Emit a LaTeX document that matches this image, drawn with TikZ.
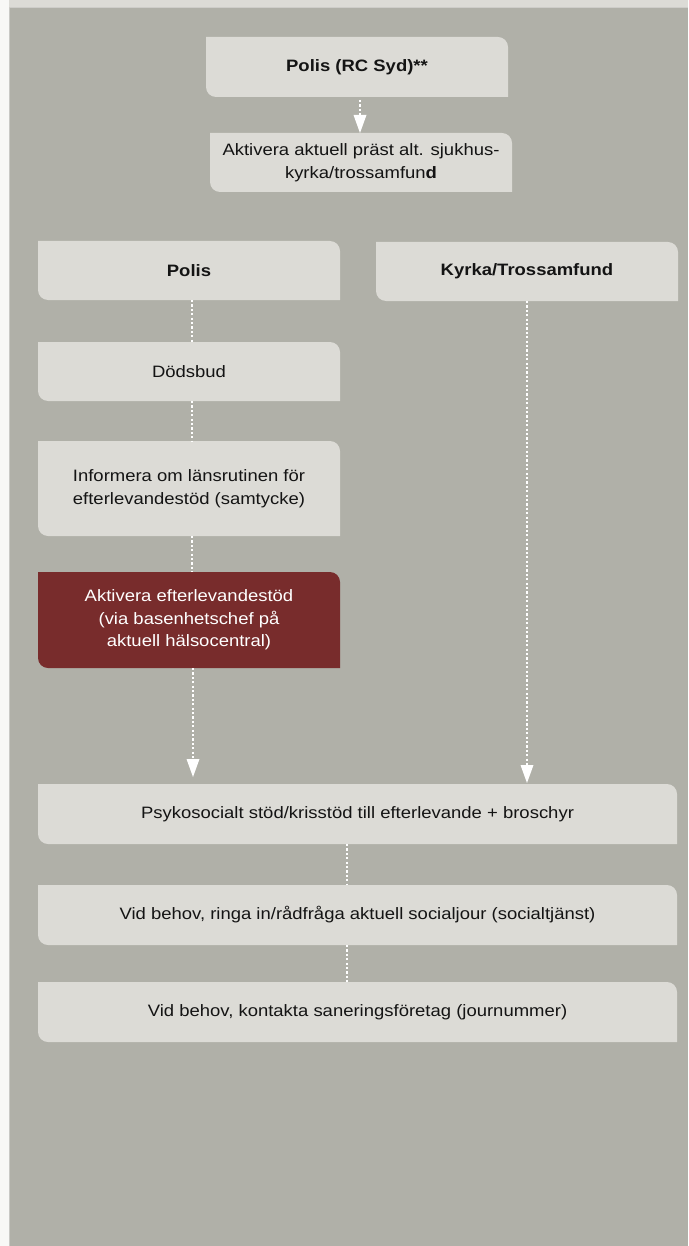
\documentclass[tikz,border=0pt]{standalone}
\usepackage{fontspec}
\setmainfont{Liberation Sans}[FakeStretch=1.12]
\usetikzlibrary{arrows.meta,backgrounds}
\definecolor{pagegray}{HTML}{B0B0A8}
\definecolor{boxgray}{HTML}{DCDBD6}
\definecolor{boxred}{HTML}{782C2C}
\definecolor{txt}{HTML}{141414}
\definecolor{striplight}{HTML}{F8F8F6}
\newcommand\rr{10pt}
\newcommand\leaffill[2]{\fill[#2] (#1.north west) -- ([xshift=-\rr]#1.north east) arc[start angle=90,end angle=0,radius=\rr] -- (#1.south east) -- ([xshift=\rr]#1.south west) arc[start angle=270,end angle=180,radius=\rr] -- cycle;}
\tikzset{
  x=1pt, y=1pt,
  box/.style={rectangle, inner sep=0pt, outer sep=0pt, align=center, text=txt,
    font=\fontsize{16.5}{22.5}\selectfont},
  narrowbox/.style={box, minimum width=302pt},
  widebox/.style={box, minimum width=639pt},
  dots/.style={draw=white, line width=2.4pt, dash pattern=on 2.2pt off 2.2pt},
  dotarrow/.style={dots, -{Triangle[width=13pt,length=18pt,line width=0pt,fill=white]}}
}
\begin{document}
\begin{tikzpicture}
\useasboundingbox (0,0) rectangle (688,-1246);
\begin{scope}[on background layer]
  \fill[pagegray] (0,0) rectangle (688,-1246);
  \fill[striplight] (0,0) rectangle (9,-1246);
  \draw[boxgray!80!gray, line width=0.8pt] (9,-7.5) -- (9,-1246);
  \fill[boxgray] (9,0) rectangle (688,-7.5);
  \draw[boxgray!85!gray, line width=0.8pt] (9,-7.5) -- (688,-7.5);
\end{scope}

\node[narrowbox, minimum height=60pt] (top) at (357,-67) {\bfseries Polis (RC Syd)**};
\node[narrowbox, minimum height=59pt] (act) at (361,-162.5) {Aktivera aktuell präst alt. sjukhus-\\kyrka/trossamfun\textbf{d}};
\node[narrowbox, minimum height=59pt] (polis) at (189,-270.5) {\bfseries Polis};
\node[narrowbox, minimum height=59pt] (kyrka) at (527,-271.5) {\bfseries Kyrka/Trossamfund};
\node[narrowbox, minimum height=59pt] (doed) at (189,-371.5) {Dödsbud};
\node[narrowbox, minimum height=95pt] (info) at (189,-488.5) {Informera om länsrutinen för\\efterlevandestöd (samtycke)};
\node[narrowbox, minimum height=96pt, text=white] (red) at (189,-620) {Aktivera efterlevandestöd\\(via basenhetschef på\\aktuell hälsocentral)};
\node[widebox, minimum height=60pt] (psy) at (357.5,-814) {Psykosocialt stöd/krisstöd till efterlevande + broschyr};
\node[widebox, minimum height=60pt] (vid1) at (357.5,-915) {Vid behov, ringa in/rådfråga aktuell socialjour (socialtjänst)};
\node[widebox, minimum height=60pt] (vid2) at (357.5,-1012) {Vid behov, kontakta saneringsföretag (journummer)};

\begin{scope}[on background layer]
  \leaffill{top}{boxgray}
  \leaffill{act}{boxgray}
  \leaffill{polis}{boxgray}
  \leaffill{kyrka}{boxgray}
  \leaffill{doed}{boxgray}
  \leaffill{info}{boxgray}
  \leaffill{red}{boxred}
  \leaffill{psy}{boxgray}
  \leaffill{vid1}{boxgray}
  \leaffill{vid2}{boxgray}
\end{scope}

\draw[dotarrow, shorten <=3pt] ([xshift=3pt]top.south) -- ([xshift=-1pt]act.north);
\draw[dots] ([xshift=3pt]polis.south) -- ([xshift=3pt]doed.north);
\draw[dots] ([xshift=3pt]doed.south) -- ([xshift=3pt]info.north);
\draw[dots] ([xshift=3pt]info.south) -- ([xshift=3pt]red.north);
\draw[dotarrow, shorten >=7pt] ([xshift=4pt]red.south) -- ([xshift=4pt]red.south |- psy.north);
\draw[dotarrow, shorten >=1pt] (kyrka.south) -- (kyrka.south |- psy.north);
\draw[dots] ([xshift=-10.5pt]psy.south) -- ([xshift=-10.5pt]vid1.north);
\draw[dots] ([xshift=-10.5pt]vid1.south) -- ([xshift=-10.5pt]vid2.north);
\end{tikzpicture}
\end{document}
